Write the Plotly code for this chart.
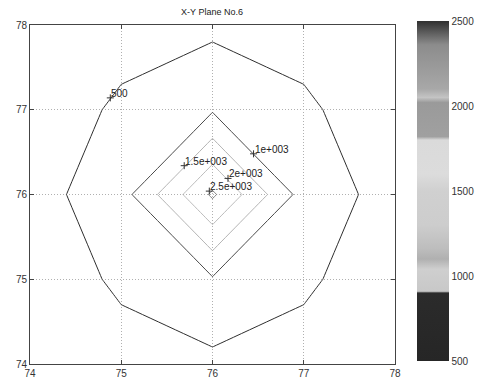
import plotly.graph_objects as go

# ---- data ----
grid_x = [74, 75, 76, 77, 78]
grid_y = [74, 75, 76, 77, 78]
grid_z = [
    [180, 360, 387, 360, 180],
    [274, 560, 951, 560, 274],
    [307, 790, 2580, 790, 307],
    [274, 560, 951, 560, 274],
    [180, 360, 387, 360, 180],
]
levels = [500, 1000, 1500, 2000, 2500]
level_colors = ["#2e2e2e", "#4a4a4a", "#b4b4b4", "#bcbcbc", "#7a7a7a"]

label_text = ["500", "1e+003", "1.5e+003", "2e+003", "2.5e+003"]
label_x = [74.88, 76.45, 75.69, 76.17, 75.965]
label_y = [77.14, 76.48, 76.34, 76.19, 76.04]

cbar_ticks = [500, 1000, 1500, 2000, 2500]
cbar_scale = [
    [0.0, "#262626"], [0.2, "#2b2b2b"], [0.205, "#c8c8c8"], [0.27, "#cfcfcf"],
    [0.3, "#b0b0b0"], [0.33, "#bdbdbd"], [0.4, "#cdcdcd"], [0.5, "#d0d0d0"],
    [0.55, "#dcdcdc"], [0.65, "#dadada"], [0.66, "#a0a0a0"], [0.76, "#9a9a9a"],
    [0.775, "#c4c4c4"], [0.8, "#a8a8a8"], [0.93, "#8c8c8c"], [1.0, "#303030"],
]

FONT = "Liberation Sans, Arial, sans-serif"

fig = go.Figure()

for lev, col in zip(levels, level_colors):
    fig.add_trace(go.Contour(
        x=grid_x, y=grid_y, z=grid_z,
        contours=dict(start=lev, end=lev, size=1, coloring="none", showlabels=False),
        line=dict(color=col, width=1, smoothing=0),
        showscale=False, hoverinfo="skip",
    ))

# label markers
fig.add_trace(go.Scatter(
    x=label_x, y=label_y, mode="markers",
    marker=dict(symbol="cross-thin", size=5, line=dict(width=1, color="#333")),
    hoverinfo="skip", showlegend=False,
))

for t, lx, ly in zip(label_text, label_x, label_y):
    fig.add_annotation(x=lx, y=ly, text=t, showarrow=False,
                       xanchor="left", yanchor="bottom", xshift=-1, yshift=-3,
                       font=dict(family=FONT, size=10, color="#222"))

# colorbar carrier
fig.add_trace(go.Scatter(
    x=[76], y=[76], mode="markers",
    marker=dict(size=0.1, opacity=0, color=[1500], colorscale=cbar_scale,
                cmin=500, cmax=2500, showscale=True,
                colorbar=dict(
                    x=(417 - 30) / 365, xanchor="left", xpad=0, ypad=0,
                    y=(364 - 191) / 339, yanchor="middle",
                    len=340, lenmode="pixels",
                    thickness=32, thicknessmode="pixels",
                    outlinewidth=0, tickvals=cbar_ticks, ticks="",
                    tickfont=dict(family=FONT, size=10, color="#333"),
                )),
    hoverinfo="skip", showlegend=False,
))

axis_common = dict(
    range=[74, 78], tickvals=[74, 75, 76, 77, 78],
    showgrid=True, gridcolor="#b0b0b0", griddash="1px,2px", gridwidth=1,
    showline=True, linecolor="#444", linewidth=1, mirror="ticks",
    ticks="inside", ticklen=4, tickcolor="#444",
    zeroline=False, automargin=False,
    tickfont=dict(family=FONT, size=10, color="#333"),
)

fig.update_layout(
    width=482, height=379, autosize=False,
    margin=dict(l=30, r=87, t=25, b=15, autoexpand=False),
    paper_bgcolor="white", plot_bgcolor="white",
    showlegend=False,
    title=dict(text="X-Y Plane No.6", x=212 / 482, xanchor="center",
               y=1 - 12 / 379, yanchor="middle",
               font=dict(family=FONT, size=9, color="#222")),
    xaxis=axis_common,
    yaxis=axis_common,
)

fig.write_html("out.html")
